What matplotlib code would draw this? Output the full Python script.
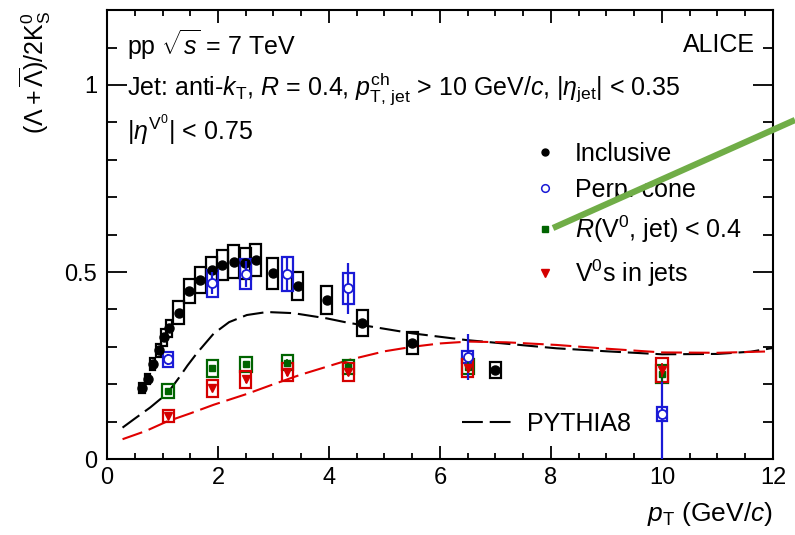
import numpy as np
import matplotlib
matplotlib.use("Agg")
import matplotlib.pyplot as plt
from matplotlib.patches import Rectangle
from matplotlib.lines import Line2D
from matplotlib.ticker import MultipleLocator

plt.rcParams['font.family'] = ['Liberation Sans', 'DejaVu Sans']
plt.rcParams['mathtext.fontset'] = 'custom'
plt.rcParams['mathtext.rm'] = 'Liberation Sans'
plt.rcParams['mathtext.it'] = 'Liberation Sans:italic'
plt.rcParams['mathtext.bf'] = 'Liberation Sans:bold'

# inclusive
incPt = [0.63, 0.73, 0.82, 0.93, 1.03, 1.12, 1.29, 1.48, 1.68, 1.89, 2.08, 2.28, 2.49, 2.68,
         2.99, 3.44, 3.96, 4.6, 5.5, 7.0]
incVal = [0.189, 0.213, 0.254, 0.291, 0.325, 0.349, 0.391, 0.449, 0.478, 0.505, 0.519, 0.528,
          0.523, 0.532, 0.496, 0.463, 0.425, 0.363, 0.311, 0.238]
incSys = [0.013, 0.013, 0.016, 0.017, 0.022, 0.024, 0.031, 0.032, 0.035, 0.036, 0.041, 0.043,
          0.041, 0.044, 0.042, 0.038, 0.037, 0.035, 0.029, 0.022]

# jet related samples
jetPt = [1.1, 1.9, 2.5, 3.25, 4.35, 6.5, 10.0]
perpVal = [0.267, 0.470, 0.495, 0.495, 0.456, 0.272, 0.120]
perpStat = [0.015, 0.030, 0.035, 0.048, 0.067, 0.062, 0.130]
perpSys = [0.020, 0.036, 0.041, 0.045, 0.041, 0.016, 0.019]
rconeVal = [0.182, 0.243, 0.253, 0.258, 0.247, 0.247, 0.227]
rconeStat = [0.006, 0.008, 0.009, 0.010, 0.010, 0.012, 0.020]
rconeSys = [0.018, 0.023, 0.019, 0.019, 0.019, 0.020, 0.025]
injetVal = [0.115, 0.189, 0.213, 0.233, 0.233, 0.243, 0.238]
injetStat = [0.006, 0.008, 0.009, 0.010, 0.010, 0.012, 0.020]
injetSys = [0.016, 0.023, 0.023, 0.025, 0.024, 0.025, 0.032]

# PYTHIA8 curves
pyPt = [0.28, 0.5, 0.78, 1.0, 1.15, 1.3, 1.45, 1.62, 1.92, 2.2, 2.52, 2.88, 3.36, 3.96, 4.32, 4.68,
        5.5, 6.48, 8.1, 9.0, 10.0, 11.0, 11.6, 12.0]
pyIncl = [0.084, 0.108, 0.138, 0.165, 0.188, 0.218, 0.250, 0.283, 0.335, 0.366, 0.385, 0.393, 0.390,
          0.376, 0.365, 0.356, 0.336, 0.318, 0.296, 0.288, 0.280, 0.281, 0.287, 0.297]
pyJetPt = [0.28, 0.7, 1.075, 1.5, 1.92, 2.52, 3.0, 3.48, 4.36, 5.0, 5.5, 6.0, 6.51, 7.2, 8.1,
           9.0, 10.0, 11.0, 12.0]
pyJet = [0.053, 0.075, 0.100, 0.122, 0.145, 0.174, 0.200, 0.225, 0.265, 0.288, 0.300, 0.309,
         0.314, 0.312, 0.305, 0.295, 0.285, 0.284, 0.288]


def drawBoxes(ax, xs, ys, sys, color, widthFunc):
    for x, y, s in zip(xs, ys, sys):
        w = widthFunc(x)
        ax.add_patch(Rectangle((x - w / 2, y - s), w, 2 * s, fill=False,
                               edgecolor=color, linewidth=1.6, zorder=3))


blue = '#1a1ad6'
green = '#006400'
red = '#d40000'

fig = plt.figure(figsize=(7.95, 5.35), dpi=100)
ax = fig.add_axes([0.1346, 0.142, 0.8377, 0.839])

drawBoxes(ax, incPt, incVal, incSys, 'black', lambda x: 0.1 if x < 1.2 else 0.2)
drawBoxes(ax, jetPt, perpVal, perpSys, blue, lambda x: 0.19)
drawBoxes(ax, jetPt, rconeVal, rconeSys, green, lambda x: 0.21)
drawBoxes(ax, jetPt, injetVal, injetSys, red, lambda x: 0.2)

dash = (10, 3.3)
ax.plot(pyPt, pyIncl, color='black', lw=1.5, dashes=dash, zorder=2)
ax.plot(pyJetPt, pyJet, color='#e00000', lw=1.5, dashes=dash, zorder=2)

ax.plot(incPt, incVal, 'o', color='black', ms=6.5, zorder=5)
ax.errorbar(jetPt, perpVal, yerr=perpStat, fmt='o', color=blue, mfc='white',
            mew=1.3, ms=6.5, elinewidth=1.6, capsize=0, zorder=5)
ax.errorbar(jetPt, rconeVal, yerr=rconeStat, fmt='s', color=green, ms=5,
            elinewidth=1.2, capsize=0, zorder=6)
ax.errorbar(jetPt, injetVal, yerr=injetStat, fmt='v', color=red, ms=6,
            elinewidth=1.2, capsize=0, zorder=7)

ax.set_xlim(0, 12)
ax.set_ylim(0, 1.2)
ax.xaxis.set_major_locator(MultipleLocator(2))
ax.xaxis.set_minor_locator(MultipleLocator(0.5))
ax.yaxis.set_major_locator(MultipleLocator(0.5))
ax.yaxis.set_minor_locator(MultipleLocator(0.1))
ax.set_yticks([0, 0.5, 1])
ax.set_yticklabels(['0', '0.5', '1'])
ax.tick_params(which='both', direction='in', top=True, right=True, labelsize=17, width=1.3)
ax.tick_params(axis='x', which='major', length=9.4, pad=6)
ax.tick_params(axis='x', which='minor', length=4.3)
ax.tick_params(axis='y', which='major', length=14.4, pad=7)
ax.tick_params(axis='y', which='minor', length=7.2)
for sp in ax.spines.values():
    sp.set_linewidth(1.5)

ax.set_xlabel(r'$p_{\rm T}$ (GeV/$c$)', fontsize=19, loc='right')
ax.set_ylabel(r'$(\Lambda + \overline{\Lambda})/2\rm K^0_S$', fontsize=18, loc='top')
ax.xaxis.set_label_coords(1.0, -0.092)
ax.yaxis.set_label_coords(-0.081, 1.0)

fs = 18
ax.text(0.03, 0.922, r'pp $\sqrt{s}$ = 7 TeV', transform=ax.transAxes, fontsize=fs, va='center')
ax.text(0.973, 0.922, 'ALICE', transform=ax.transAxes, fontsize=fs, va='center', ha='right')
ax.text(0.03, 0.826, r'Jet: anti-$k_{\rm T}$, $R$ = 0.4, $p_{\rm T,\,jet}^{\rm ch}$ > 10 GeV/$c$, |$\eta_{\rm jet}$| < 0.35',
        transform=ax.transAxes, fontsize=fs, va='center')
ax.text(0.03, 0.733, r'|$\eta^{\rm V^0}$| < 0.75', transform=ax.transAxes, fontsize=fs, va='center')

hInc = Line2D([], [], ls='none', marker='o', color='black', ms=5)
hPerp = Line2D([], [], ls='none', marker='o', color=blue, mfc='white', mew=1.1, ms=5.5)
hRc = Line2D([], [], ls='none', marker='s', color=green, ms=5)
hJet = Line2D([], [], ls='none', marker='v', color=red, ms=5.5)
leg1 = ax.legend([hInc, hPerp, hRc, hJet],
                 ['Inclusive', 'Perp. cone', r'$R$(V$^0$, jet) < 0.4', r'V$^0$s in jets'],
                 loc='upper left', bbox_to_anchor=(0.609, 0.757), frameon=False, fontsize=fs,
                 handlelength=0.8, handletextpad=0.8, labelspacing=0.48, borderpad=0.4)
ax.add_artist(leg1)
pyHandle = Line2D([], [], color='black', lw=1.5, dashes=dash)
ax.legend([pyHandle], ['PYTHIA8'], loc='upper left', bbox_to_anchor=(0.500, 0.156), frameon=False,
          fontsize=fs, handlelength=2.1, handletextpad=0.5, borderpad=0.4)

# green annotation stroke over the figure
fig.add_artist(Line2D([553 / 795, 1.0], [1 - 228 / 535, 1 - 120 / 535], color='#70ad47', lw=4.5,
                      solid_capstyle='butt', zorder=20))

fig.savefig('out.png', dpi=100)
